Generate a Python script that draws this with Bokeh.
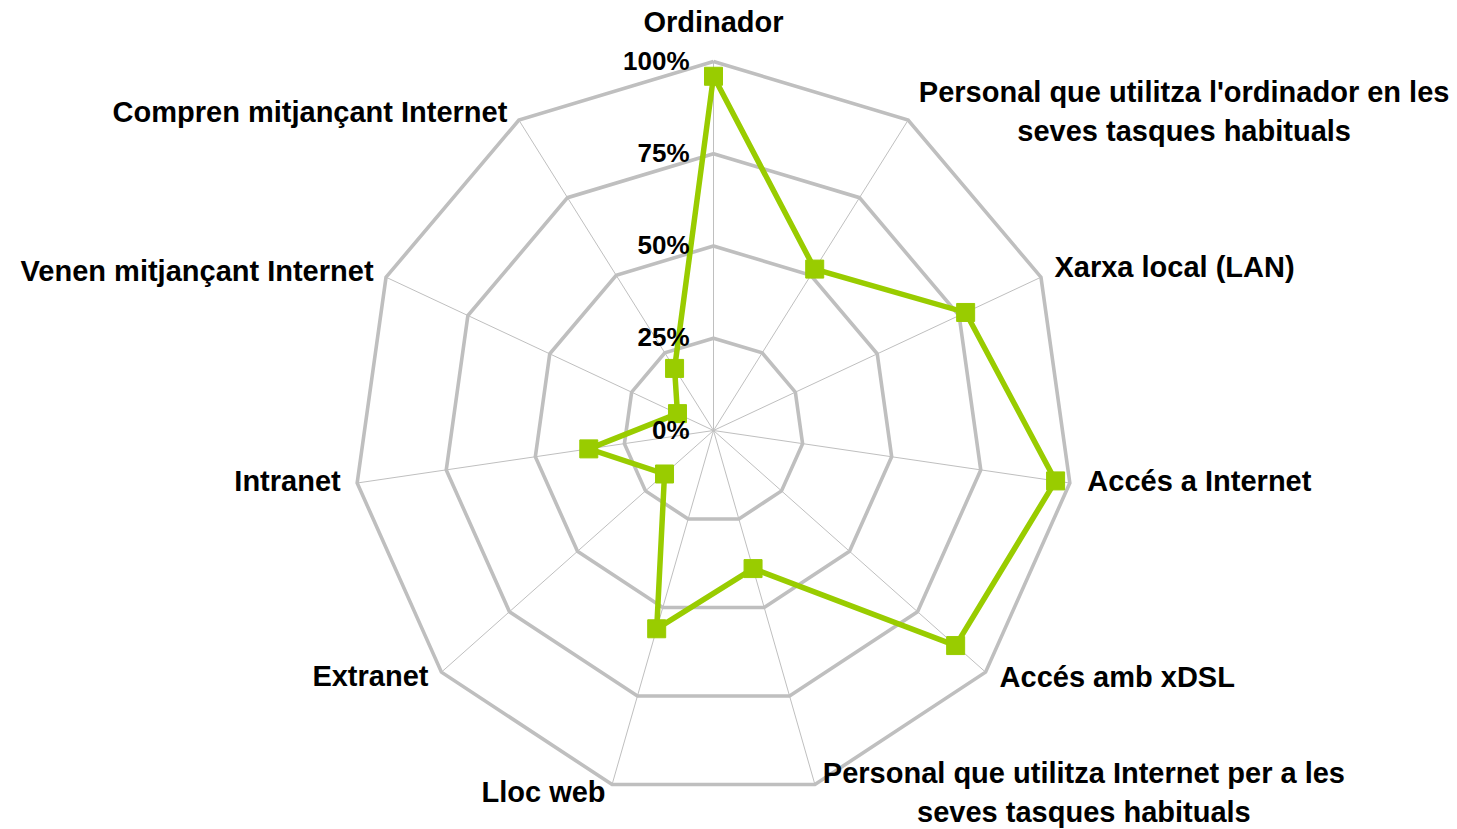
import math
from bokeh.plotting import figure
from bokeh.models import Range1d, ColumnDataSource
from bokeh.embed import file_html
from bokeh.resources import INLINE
from bokeh.core.properties import value

# ---------------- data ----------------
categories = [
    "Ordinador",
    "Personal que utilitza l'ordinador en les\nseves tasques habituals",
    "Xarxa local (LAN)",
    "Accés a Internet",
    "Accés amb xDSL",
    "Personal que utilitza Internet per a les\nseves tasques habituals",
    "Lloc web",
    "Extranet",
    "Intranet",
    "Venen mitjançant Internet",
    "Compren mitjançant Internet",
]
values = [96, 52, 77, 96, 89, 39, 56, 18, 35, 11, 20]
tick_values = [0, 25, 50, 75, 100]
tick_labels = ["0%", "25%", "50%", "75%", "100%"]

# ---------------- layout / style ----------------
W, H = 1457, 829
CX, CY = 713, 430      # chart centre in canvas pixels
RX, RY = 360, 369      # pixels per 100 % (x, y)
LINE_H = 39
label_dx = [0, 276, 13.5, 17.5, 14, 269, -6.5, -13, -16.5, -12.5, -11.5]
label_dy = [-40, -8.5, -10, -2.5, 4.5, 8, 7, 4, -2, -6, -8.5]
label_align = ["center", "center", "left", "left", "left", "center",
               "right", "right", "right", "right", "right"]
GRID = "#BFBFBF"
GREEN = "#99CC00"
FONT = "Liberation Sans"

p = figure(width=W, height=H, output_backend="svg", toolbar_location=None,
           x_range=Range1d(-CX / RX * 100, (W - CX) / RX * 100),
           y_range=Range1d(-(H - CY) / RY * 100, CY / RY * 100),
           x_axis_location=None, y_axis_location=None,
           min_border=0, outline_line_color=None,
           background_fill_color="white", border_fill_color="white")
p.grid.visible = False

n = len(categories)
ang = [2 * math.pi * k / n for k in range(n)]
sx = [math.sin(a) for a in ang]
cy = [math.cos(a) for a in ang]

# spokes
p.segment(x0=[0] * n, y0=[0] * n, x1=[100 * s for s in sx], y1=[100 * c for c in cy],
          line_color=GRID, line_width=1)

# rings
ring_xs, ring_ys = [], []
for lv in tick_values[1:]:
    ring_xs.append([lv * s for s in sx] + [lv * sx[0]])
    ring_ys.append([lv * c for c in cy] + [lv * cy[0]])
p.multi_line(xs=ring_xs, ys=ring_ys, line_color=GRID, line_width=3.6, line_join="miter")

# series
vx = [v * s for v, s in zip(values, sx)]
vy = [v * c for v, c in zip(values, cy)]
p.line(x=vx + [vx[0]], y=vy + [vy[0]], line_color=GREEN, line_width=5.5, line_join="miter")
p.scatter(x=vx, y=vy, marker="square", size=18, fill_color=GREEN, line_color=GREEN)

# tick labels
p.text(x=[0] * len(tick_values), y=tick_values, text=tick_labels,
       x_offset=-24, y_offset=-1, text_align="right", text_baseline="middle",
       text_font=value(FONT), text_font_style="bold", text_font_size="26px",
       text_color="black")

# category labels
groups = {}
for k, cat in enumerate(categories):
    lines = cat.split("\n")
    m = len(lines)
    for j, ln in enumerate(lines):
        g = groups.setdefault(label_align[k], dict(x=[], y=[], text=[], xo=[], yo=[]))
        g["x"].append(100 * sx[k])
        g["y"].append(100 * cy[k])
        g["text"].append(ln)
        g["xo"].append(label_dx[k])
        g["yo"].append(label_dy[k] + (j - (m - 1) / 2) * LINE_H)
for align, g in groups.items():
    src = ColumnDataSource(g)
    p.text(x="x", y="y", text="text", x_offset="xo", y_offset="yo", source=src,
           text_align=align, text_baseline="middle",
           text_font=value(FONT), text_font_style="bold", text_font_size="29px",
           text_color="black")

open("out.html", "w").write(file_html(p, INLINE))
